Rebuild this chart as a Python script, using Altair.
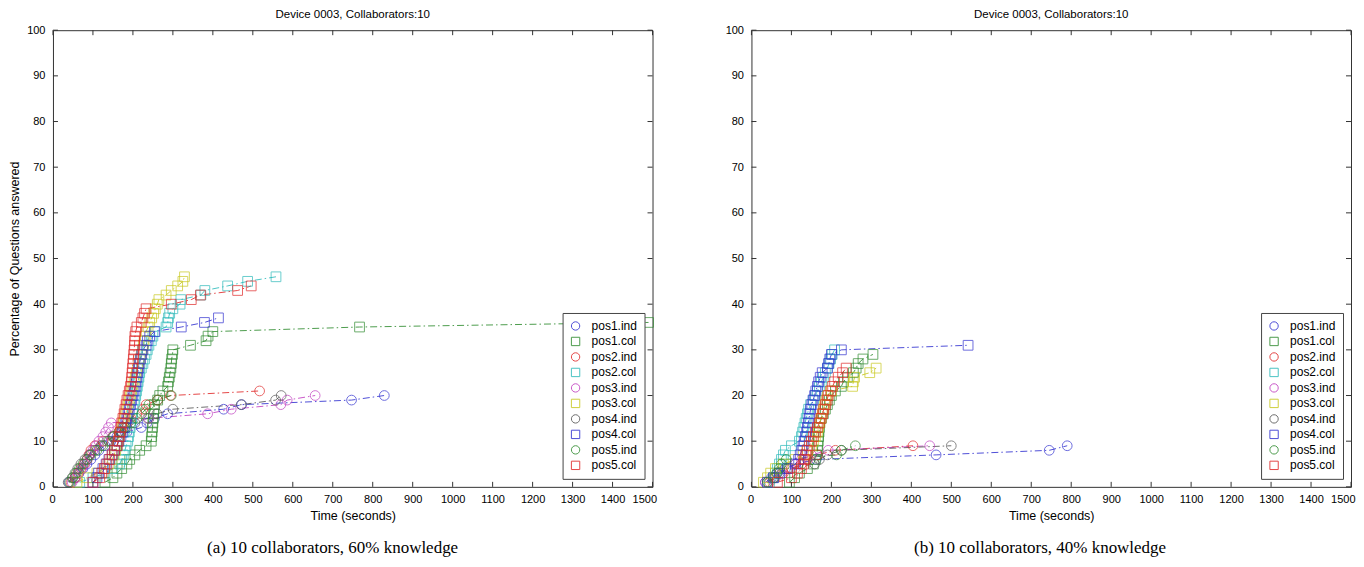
import altair as alt
import pandas as pd

SERIES = ["pos1.ind", "pos1.col", "pos2.ind", "pos2.col", "pos3.ind",
          "pos3.col", "pos4.ind", "pos4.col", "pos5.ind", "pos5.col"]
COLORS = ["#3030d0", "#2e8b2e", "#e02828", "#2cbaba", "#c03cc0",
          "#c8c81e", "#555555", "#3030d0", "#2e8b2e", "#e02828"]
SHAPES = ["circle", "square", "circle", "square", "circle",
          "square", "circle", "square", "circle", "square"]
XTICKS = [0, 100, 200, 300, 400, 500, 600, 700, 800, 900, 1000, 1100, 1200, 1300, 1400, 1500]
YTICKS = [0, 10, 20, 30, 40, 50, 60, 70, 80, 90, 100]

# ---------- panel (a): 60% knowledge ----------
A_POS1_IND_T = [40, 55, 65, 75, 85, 95, 105, 115, 130, 145, 160, 185, 221, 235, 254, 287, 427, 472, 747, 829]
A_POS1_IND_P = [1, 2, 3, 4, 5, 6, 7, 8, 9, 10, 11, 12, 13, 14, 15, 16, 17, 18, 19, 20]
A_POS1_COL_T = [130, 150, 160, 172, 185, 192, 205, 217, 233, 246, 247, 248, 249, 250, 251, 252, 253, 254,
                262, 267, 275, 287, 289, 291, 293, 295, 296, 297, 299, 300, 344, 383, 388, 400, 767, 1490]
A_POS1_COL_P = [1, 2, 3, 4, 5, 6, 7, 8, 9, 10, 11, 12, 13, 14, 15, 16, 17, 18,
                19, 20, 21, 22, 23, 24, 25, 26, 27, 28, 29, 30, 31, 32, 33, 34, 35, 36]
A_POS2_IND_T = [45, 55, 62, 70, 78, 85, 90, 95, 105, 125, 150, 165, 175, 185, 195, 210, 225, 233, 262, 294, 517]
A_POS2_IND_P = [1, 2, 3, 4, 5, 6, 7, 8, 9, 10, 11, 12, 13, 14, 15, 16, 17, 18, 19, 20, 21]
A_POS2_COL_T = [67, 100, 130, 150, 167, 172, 176, 180, 183, 187, 189, 191, 193, 195, 197, 199, 200, 203, 205, 207,
                209, 211, 213, 215, 217, 221, 225, 229, 233, 236, 240, 246, 250, 256, 283, 287, 289, 292, 300, 318,
                320, 370, 380, 437, 487, 558]
A_POS2_COL_P = [1, 2, 3, 4, 5, 6, 7, 8, 9, 10, 11, 12, 13, 14, 15, 16, 17, 18, 19, 20,
                21, 22, 23, 24, 25, 26, 27, 28, 29, 30, 31, 32, 33, 34, 35, 36, 37, 38, 39, 40,
                41, 42, 43, 44, 45, 46]
A_POS3_IND_T = [48, 58, 65, 72, 80, 86, 92, 100, 108, 115, 125, 132, 139, 146, 240, 387, 446, 570, 586, 656]
A_POS3_IND_P = [1, 2, 3, 4, 5, 6, 7, 8, 9, 10, 11, 12, 13, 14, 15, 16, 17, 18, 19, 20]
A_POS3_COL_T = [60, 85, 110, 130, 140, 148, 153, 157, 161, 164, 167, 170, 173, 176, 179, 182, 185, 188, 191, 194,
                197, 200, 203, 206, 209, 212, 215, 218, 221, 224, 226, 228, 231, 233, 238, 242, 247, 252, 256, 261,
                265, 283, 296, 312, 325, 329]
A_POS3_COL_P = [1, 2, 3, 4, 5, 6, 7, 8, 9, 10, 11, 12, 13, 14, 15, 16, 17, 18, 19, 20,
                21, 22, 23, 24, 25, 26, 27, 28, 29, 30, 31, 32, 33, 34, 35, 36, 37, 38, 39, 40,
                41, 42, 43, 44, 45, 46]
A_POS4_IND_T = [38, 48, 55, 62, 70, 80, 92, 105, 120, 135, 150, 170, 185, 205, 237, 260, 300, 471, 557, 571]
A_POS4_IND_P = [1, 2, 3, 4, 5, 6, 7, 8, 9, 10, 11, 12, 13, 14, 15, 16, 17, 18, 19, 20]
A_POS4_COL_T = [100, 110, 114, 125, 133, 140, 148, 154, 160, 165, 170, 174, 178, 182, 185, 188, 191, 194, 197, 200,
                203, 206, 208, 210, 212, 214, 216, 219, 222, 225, 233, 236, 242, 254, 321, 379, 414]
A_POS4_COL_P = [1, 2, 3, 4, 5, 6, 7, 8, 9, 10, 11, 12, 13, 14, 15, 16, 17, 18, 19, 20,
                21, 22, 23, 24, 25, 26, 27, 28, 29, 30, 31, 32, 33, 34, 35, 36, 37]
A_POS5_IND_T = [42, 50, 58, 66, 75, 85, 95, 110, 125, 140, 152, 165, 180, 195, 210, 222, 232, 240, 262, 296]
A_POS5_IND_P = [1, 2, 3, 4, 5, 6, 7, 8, 9, 10, 11, 12, 13, 14, 15, 16, 17, 18, 19, 20]
A_POS5_COL_T = [100, 117, 122, 129, 135, 142, 148, 154, 160, 163, 166, 168, 170, 172, 175, 178, 180, 183, 185, 188,
                191, 194, 196, 197, 198, 199, 200, 201, 202, 203, 204, 204.5, 205, 207, 210, 221, 225, 229, 233, 296,
                346, 369, 462, 496]
A_POS5_COL_P = [1, 2, 3, 4, 5, 6, 7, 8, 9, 10, 11, 12, 13, 14, 15, 16, 17, 18, 19, 20,
                21, 22, 23, 24, 25, 26, 27, 28, 29, 30, 31, 32, 33, 34, 35, 36, 37, 38, 39, 40,
                41, 42, 43, 44]

# ---------- panel (b): 40% knowledge ----------
B_POS1_IND_T = [35, 50, 65, 85, 110, 162, 462, 745, 790]
B_POS1_IND_P = [1, 2, 3, 4, 5, 6, 7, 8, 9]
B_POS1_COL_T = [95, 108, 120, 140, 155, 160, 163, 165, 166, 167, 168, 169, 170, 171, 175, 180, 185, 190, 195, 200,
                210, 225, 230, 240, 255, 262, 267, 279, 304]
B_POS1_COL_P = [1, 2, 3, 4, 5, 6, 7, 8, 9, 10, 11, 12, 13, 14, 15, 16, 17, 18, 19, 20,
                21, 22, 23, 24, 25, 26, 27, 28, 29]
B_POS2_IND_T = [45, 60, 80, 100, 125, 140, 165, 210, 404]
B_POS2_IND_P = [1, 2, 3, 4, 5, 6, 7, 8, 9]
B_POS2_COL_T = [45, 55, 60, 65, 70, 75, 80, 85, 100, 120, 125, 128, 131, 134, 137, 140, 143, 148, 155, 160,
                165, 170, 175, 180, 185, 190, 194, 198, 202, 208]
B_POS2_COL_P = [1, 2, 3, 4, 5, 6, 7, 8, 9, 10, 11, 12, 13, 14, 15, 16, 17, 18, 19, 20,
                21, 22, 23, 24, 25, 26, 27, 28, 29, 30]
B_POS3_IND_T = [35, 55, 75, 95, 110, 125, 150, 192, 446]
B_POS3_IND_P = [1, 2, 3, 4, 5, 6, 7, 8, 9]
B_POS3_COL_T = [30, 40, 48, 60, 80, 110, 130, 140, 150, 155, 160, 165, 168, 171, 174, 177, 180, 183, 186, 190,
                200, 253, 255, 258, 296, 312]
B_POS3_COL_P = [1, 2, 3, 4, 5, 6, 7, 8, 9, 10, 11, 12, 13, 14, 15, 16, 17, 18, 19, 20,
                21, 22, 23, 24, 25, 26]
B_POS4_IND_T = [40, 58, 70, 90, 158, 170, 190, 225, 500]
B_POS4_IND_P = [1, 2, 3, 4, 5, 6, 7, 8, 9]
B_POS4_COL_T = [40, 55, 70, 90, 110, 118, 122, 126, 129, 132, 135, 138, 140, 142, 144, 146, 148, 151, 154, 158,
                161, 165, 168, 172, 177, 190, 193, 196, 200, 225, 542]
B_POS4_COL_P = [1, 2, 3, 4, 5, 6, 7, 8, 9, 10, 11, 12, 13, 14, 15, 16, 17, 18, 19, 20,
                21, 22, 23, 24, 25, 26, 27, 28, 29, 30, 31]
B_POS5_IND_T = [40, 55, 63, 70, 75, 87, 213, 225, 260]
B_POS5_IND_P = [1, 2, 3, 4, 5, 6, 7, 8, 9]
B_POS5_COL_T = [65, 100, 115, 125, 130, 133, 136, 139, 145, 150, 155, 160, 165, 170, 174, 178, 181, 185, 189, 192,
                198, 203, 208, 217, 228, 237]
B_POS5_COL_P = [1, 2, 3, 4, 5, 6, 7, 8, 9, 10, 11, 12, 13, 14, 15, 16, 17, 18, 19, 20,
                21, 22, 23, 24, 25, 26]

PANEL_A = [(A_POS1_IND_T, A_POS1_IND_P), (A_POS1_COL_T, A_POS1_COL_P), (A_POS2_IND_T, A_POS2_IND_P),
           (A_POS2_COL_T, A_POS2_COL_P), (A_POS3_IND_T, A_POS3_IND_P), (A_POS3_COL_T, A_POS3_COL_P),
           (A_POS4_IND_T, A_POS4_IND_P), (A_POS4_COL_T, A_POS4_COL_P), (A_POS5_IND_T, A_POS5_IND_P),
           (A_POS5_COL_T, A_POS5_COL_P)]
PANEL_B = [(B_POS1_IND_T, B_POS1_IND_P), (B_POS1_COL_T, B_POS1_COL_P), (B_POS2_IND_T, B_POS2_IND_P),
           (B_POS2_COL_T, B_POS2_COL_P), (B_POS3_IND_T, B_POS3_IND_P), (B_POS3_COL_T, B_POS3_COL_P),
           (B_POS4_IND_T, B_POS4_IND_P), (B_POS4_COL_T, B_POS4_COL_P), (B_POS5_IND_T, B_POS5_IND_P),
           (B_POS5_COL_T, B_POS5_COL_P)]

W, H = 600, 457
FONT = "Liberation Sans"


def make_df(panel):
    rows = []
    for name, (ts, ps) in zip(SERIES, panel):
        for t, p in zip(ts, ps):
            rows.append({"series": name, "t": t, "p": p})
    return pd.DataFrame(rows)


def panel_chart(df, show_ytitle):
    xs = alt.Scale(domain=[0, 1500], nice=False, zero=False)
    ys = alt.Scale(domain=[0, 100], nice=False)
    x = alt.X("t:Q", scale=xs, axis=alt.Axis(values=XTICKS, title="Time (seconds)", tickSize=0,
                                              labelPadding=7, titlePadding=5, domain=False, grid=False,
                                              labelFlush=True, labelFlushOffset=4, labelOverlap=False,
                                              format="d"))
    y = alt.Y("p:Q", scale=ys, axis=alt.Axis(values=YTICKS,
                                              title="Percentage of Questions answered" if show_ytitle else None,
                                              tickSize=0, labelPadding=8, titlePadding=5, domain=False,
                                              grid=False, labelFlush=False, labelOverlap=False))
    cscale = alt.Scale(domain=SERIES, range=COLORS)
    sscale = alt.Scale(domain=SERIES, range=SHAPES)
    leg = alt.Legend(title=None, orient="bottom-right")
    base = alt.Chart(df)
    lines = base.mark_line(strokeDash=[7, 3, 1.5, 3], strokeWidth=1, opacity=0.85).encode(
        x=x, y=y,
        color=alt.Color("series:N", scale=cscale, legend=leg),
        detail="series:N",
        order="t:Q",
    )
    pts = base.mark_point(filled=False, size=95, strokeWidth=1).encode(
        x=x, y=y,
        color=alt.Color("series:N", scale=cscale, legend=leg),
        shape=alt.Shape("series:N", scale=sscale, legend=leg),
    )
    xt = alt.Chart(pd.DataFrame({"t": XTICKS}))
    yt = alt.Chart(pd.DataFrame({"p": YTICKS}))
    tick_style = dict(color="#333", strokeWidth=1)
    xb = xt.mark_rule(**tick_style).encode(x=x, y=alt.value(H), y2=alt.value(H - 5))
    xtp = xt.mark_rule(**tick_style).encode(x=x, y=alt.value(0), y2=alt.value(5))
    yl = yt.mark_rule(**tick_style).encode(y=y, x=alt.value(0), x2=alt.value(5))
    yr = yt.mark_rule(**tick_style).encode(y=y, x=alt.value(W - 5), x2=alt.value(W))
    return alt.layer(lines, pts, xb, xtp, yl, yr).properties(
        width=W, height=H,
        title=alt.TitleParams("Device 0003, Collaborators:10", fontSize=11.5, fontWeight="normal",
                              font=FONT, offset=4, anchor="middle"),
    )


def wrap(ch, caption):
    return alt.hconcat(ch, title=alt.TitleParams(caption, orient="bottom", font="Liberation Serif",
                                                 fontSize=17, fontWeight="normal", offset=17,
                                                 anchor="middle", color="black")
                       ).resolve_scale(color="independent", shape="independent"
                       ).resolve_legend(color="independent", shape="independent")


dfa = make_df(PANEL_A)
dfb = make_df(PANEL_B)

left = wrap(panel_chart(dfa, True), "(a) 10 collaborators, 60% knowledge")
right = wrap(panel_chart(dfb, False), "(b) 10 collaborators, 40% knowledge")

chart = alt.hconcat(left, right, spacing=67).resolve_scale(
    color="independent", shape="independent"
).resolve_legend(color="independent", shape="independent").properties(
    padding={"left": 0, "top": 0, "right": 0, "bottom": 4}
).configure_view(stroke="#333", strokeWidth=1).configure_axis(
    labelFont=FONT, titleFont=FONT, labelFontSize=11, titleFontSize=12.5,
    labelColor="black", titleColor="black", titleFontWeight="normal"
).configure_legend(
    orient="bottom-right", offset=8, padding=7, fillColor="white",
    strokeColor="#444", labelFontSize=12, labelFont=FONT, rowPadding=1.5,
    symbolSize=70, symbolStrokeWidth=1, labelOffset=10, symbolFillColor="transparent",
    labelColor="black"
).configure_title(color="black")

chart.save("out.html", embed_options={"renderer": "svg", "actions": False})
